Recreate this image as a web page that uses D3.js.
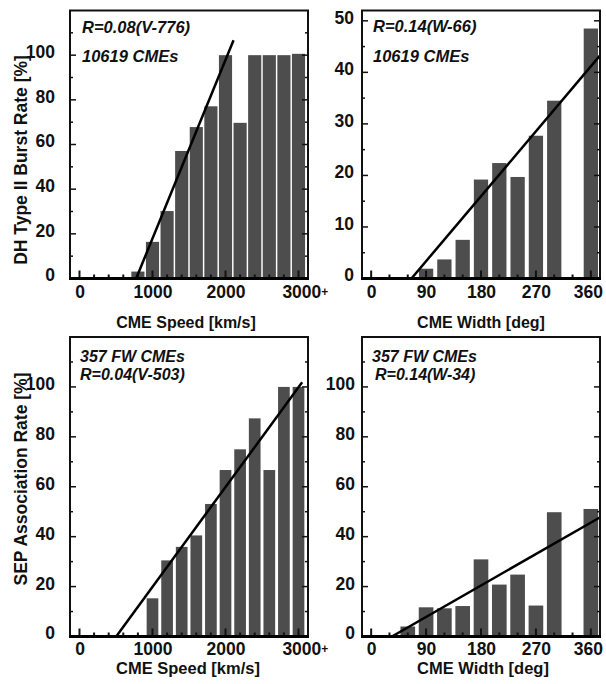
<!DOCTYPE html>
<html>
<head>
<meta charset="utf-8">
<script src="https://cdn.jsdelivr.net/npm/d3@7"></script>
<style>
body { margin: 0; background: #fff; }
svg { display: block; font-family: "Liberation Sans", Arial, sans-serif; }
.tick text { font-family: "Liberation Sans Narrow", "Arial Narrow", "Liberation Sans", Arial, sans-serif; font-weight: bold; font-size: 17.5px; fill: #111; }
.note { font-weight: bold; font-style: italic; fill: #111; }
.title { font-weight: bold; fill: #111; }
</style>
</head>
<body>
<div id="chart"></div>
<script>
// DH type II burst rate (10619 CMEs)
var dhSpeedBins = [800, 1000, 1200, 1400, 1600, 1800, 2000, 2200, 2400, 2600, 2800, 3000];
var dhSpeedRate = [3.1, 16.4, 30.2, 57.1, 67.8, 77.1, 100, 69.7, 100, 100, 100, 100.6];
var dhWidthBins = [90, 120, 150, 180, 210, 240, 270, 300, 330, 360];
var dhWidthRate = [1.9, 3.7, 7.5, 19.2, 22.4, 19.7, 27.7, 34.5, 0, 48.5];

// SEP association rate (357 FW CMEs)
var sepSpeedBins = [1000, 1200, 1400, 1600, 1800, 2000, 2200, 2400, 2600, 2800, 3000];
var sepSpeedRate = [15.3, 30.5, 35.9, 40.5, 53.1, 66.7, 75, 87.4, 66.7, 100, 100];
var sepWidthBins = [60, 90, 120, 150, 180, 210, 240, 270, 300, 330, 360];
var sepWidthRate = [4, 11.7, 11.3, 12.2, 30.9, 20.8, 24.8, 12.4, 49.8, 0, 51.1];

// tick labels
var speedTicks = [0, 1000, 2000, 3000];
var widthTicks = [0, 90, 180, 270, 360];
var rateTicks = [0, 20, 40, 60, 80, 100];
var rateTicksSmall = [0, 10, 20, 30, 40, 50];

// linear fits R = a*(x - x0), drawn up to xEnd
var fitSlope = [0.08, 0.14, 0.04, 0.14];
var fitZero = [776, 66, 503, 34];
var fitEnd = [2110, 380, 3050, 380];

var notesA = ["R=0.08(V-776)", "R=0.14(W-66)", "357 FW CMEs", "357 FW CMEs"];
var notesB = ["10619 CMEs", "10619 CMEs", "R=0.04(V-503)", "R=0.14(W-34)"];

var W = 606, H = 684;

var svg = d3.select("#chart").append("svg")
    .attr("width", W)
    .attr("height", H);

var panels = [
    { bins: dhSpeedBins, rates: dhSpeedRate, step: 200, frac: 0.9, xDomain: [-130, 3130], yMax: 120,
      xTicks: speedTicks, yTicks: rateTicks, yMinor: 10, left: 70, right: 308, top: 10.5, bottom: 278.5,
      xPad: 7, yPad: 15, noteX: 82, noteY: [33, 62], noteSize: 16.5, xTitle: "CME Speed [km/s]",
      xTitleX: 186, xTitleY: 328, xTitleSize: 16 },
    { bins: dhWidthBins, rates: dhWidthRate, step: 30, frac: 0.78, xDomain: [-15, 375], yMax: 52,
      xTicks: widthTicks, yTicks: rateTicksSmall, yMinor: 5, left: 362, right: 600, top: 10.5, bottom: 278.5,
      xPad: 7, yPad: 8, noteX: 373, noteY: [32, 62], noteSize: 16.5, xTitle: "CME Width [deg]",
      xTitleX: 481, xTitleY: 328, xTitleSize: 16 },
    { bins: sepSpeedBins, rates: sepSpeedRate, step: 200, frac: 0.8, xDomain: [-130, 3130], yMax: 120,
      xTicks: speedTicks, yTicks: rateTicks, yMinor: 10, left: 70, right: 308, top: 337, bottom: 636.5,
      xPad: 6, yPad: 15, noteX: 80, noteY: [362, 380], noteSize: 16, xTitle: "CME Speed [km/s]",
      xTitleX: 188, xTitleY: 674, xTitleSize: 16.5 },
    { bins: sepWidthBins, rates: sepWidthRate, step: 30, frac: 0.8, xDomain: [-15, 375], yMax: 120,
      xTicks: widthTicks, yTicks: rateTicks, yMinor: 10, left: 362, right: 600, top: 337, bottom: 636.5,
      xPad: 6, yPad: 7, noteX: 372, noteY: [362, 380], noteSize: 16, xTitle: "CME Width [deg]",
      xTitleX: 483, xTitleY: 674, xTitleSize: 16.5 }
];

panels.forEach(function (p, i) {
    var g = svg.append("g").attr("class", "panel");
    var x = d3.scaleLinear().domain(p.xDomain).range([p.left, p.right]);
    var y = d3.scaleLinear().domain([0, p.yMax]).range([p.bottom, p.top]);

    var clipId = "clip" + i;
    svg.append("defs").append("clipPath").attr("id", clipId)
        .append("rect")
        .attr("x", p.left).attr("y", p.top)
        .attr("width", p.right - p.left).attr("height", p.bottom - p.top);

    // bars
    var half = p.step * p.frac / 2;
    g.append("g").selectAll("rect")
        .data(d3.zip(p.bins, p.rates).filter(function (d) { return d[1] > 0; }))
        .join("rect")
        .attr("x", function (d) { return x(d[0] - half); })
        .attr("width", function (d) { return x(d[0] + half) - x(d[0] - half); })
        .attr("y", function (d) { return y(d[1]); })
        .attr("height", function (d) { return y(0) - y(d[1]); })
        .attr("fill", "#4d4d4d");

    // inward ticks
    var minorX = d3.range(0, p.xDomain[1] - 5, p.step);
    var majorX = p.xTicks;
    var tk = g.append("g").attr("stroke", "#111");
    tk.selectAll("line.mx").data(minorX).join("line")
        .attr("x1", function (d) { return x(d); }).attr("x2", function (d) { return x(d); })
        .attr("y1", p.bottom).attr("y2", function (d) { return majorX.indexOf(d) >= 0 ? p.bottom - 8 : p.bottom - 4; })
        .attr("stroke-width", 2);
    var minorY = d3.range(0, p.yMax, p.yMinor);
    [p.left, p.right].forEach(function (xx, side) {
        var dir = side === 0 ? 1 : -1;
        tk.selectAll("line.y" + side).data(minorY).join("line")
            .attr("x1", xx)
            .attr("x2", function (d) { return xx + dir * (p.yTicks.indexOf(d) >= 0 ? 6 : 3); })
            .attr("y1", function (d) { return y(d); }).attr("y2", function (d) { return y(d); })
            .attr("stroke-width", 1.5);
    });

    // fit line
    var line = d3.line().x(function (d) { return x(d[0]); }).y(function (d) { return y(d[1]); });
    g.append("path")
        .attr("clip-path", "url(#" + clipId + ")")
        .attr("d", line([[fitZero[i], 0], [fitEnd[i], fitSlope[i] * (fitEnd[i] - fitZero[i])]]))
        .attr("fill", "none")
        .attr("stroke", "#000")
        .attr("stroke-width", 2.5);

    // frame
    g.append("rect")
        .attr("x", p.left).attr("y", p.top)
        .attr("width", p.right - p.left).attr("height", p.bottom - p.top)
        .attr("fill", "none").attr("stroke", "#111").attr("stroke-width", 2);
    g.append("line")
        .attr("x1", p.left - 1).attr("x2", p.right + 1)
        .attr("y1", p.bottom).attr("y2", p.bottom)
        .attr("stroke", "#000").attr("stroke-width", 3);

    // axes (labels only, ticks drawn above)
    var xAxis = g.append("g")
        .attr("transform", "translate(0," + p.bottom + ")")
        .call(d3.axisBottom(x).tickValues(p.xTicks).tickSize(0).tickPadding(p.xPad)
            .tickFormat(function (d) { return d; }));
    xAxis.select(".domain").remove();
    if (p.xTicks === speedTicks) {
        xAxis.selectAll(".tick text").filter(function (d) { return d === 3000; })
            .attr("text-anchor", "start").attr("dx", "-0.95em")
            .append("tspan").attr("font-size", "12px").attr("dy", "-2").text("+");
    } else {
        xAxis.selectAll(".tick text").filter(function (d) { return d === 360; })
            .attr("dx", "-3");
    }
    var yAxis = g.append("g")
        .attr("transform", "translate(" + p.left + ",0)")
        .call(d3.axisLeft(y).tickValues(p.yTicks).tickSize(0).tickPadding(p.yPad));
    yAxis.select(".domain").remove();
    yAxis.selectAll(".tick text").attr("dy", "0.14em");

    // notes
    g.append("text").attr("class", "note")
        .attr("x", p.noteX).attr("y", p.noteY[0])
        .attr("font-size", p.noteSize).text(notesA[i]);
    g.append("text").attr("class", "note")
        .attr("x", p.noteX + (i === 3 ? 3 : 0)).attr("y", p.noteY[1])
        .attr("font-size", p.noteSize).text(notesB[i]);

    // x title
    g.append("text").attr("class", "title")
        .attr("x", p.xTitleX).attr("y", p.xTitleY)
        .attr("text-anchor", "middle")
        .attr("font-size", p.xTitleSize)
        .text(p.xTitle);
});

// y titles
svg.append("text").attr("class", "title")
    .attr("transform", "translate(27,160) rotate(-90)")
    .attr("text-anchor", "middle")
    .attr("font-size", 17.5)
    .text("DH Type II Burst Rate [%]");
svg.append("text").attr("class", "title")
    .attr("transform", "translate(27,479) rotate(-90)")
    .attr("text-anchor", "middle")
    .attr("font-size", 17.5)
    .text("SEP Association Rate [%]");
</script>
</body>
</html>
